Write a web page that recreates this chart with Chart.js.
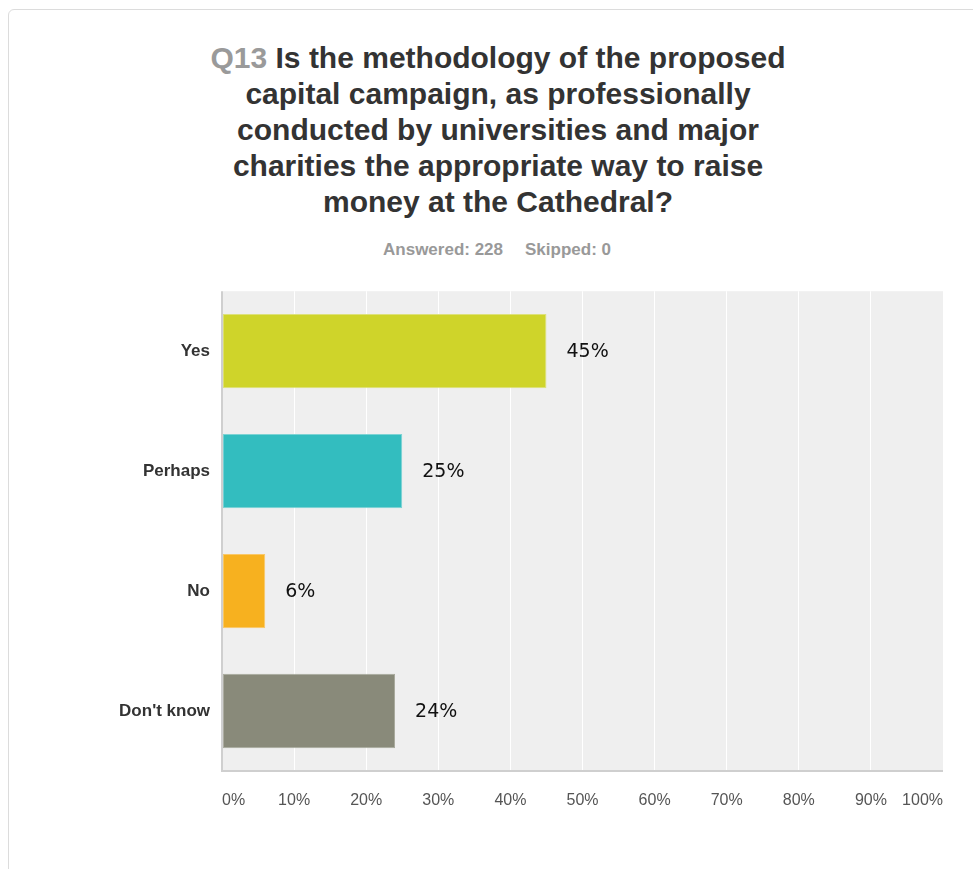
<!DOCTYPE html>
<html>
<head>
<meta charset="utf-8">
<script src="https://cdn.jsdelivr.net/npm/chart.js@4.4.1/dist/chart.umd.min.js"></script>
<style>
  html, body { margin: 0; padding: 0; background: #fff; }
  body { width: 973px; height: 869px; position: relative; overflow: hidden; }
  .card {
    position: absolute; left: 8px; top: 9px; width: 1100px; height: 1000px;
    border: 1px solid #dcdcdc; border-radius: 6px; box-sizing: border-box;
  }
  .title {
    position: absolute; left: 0; top: 40px; width: 996px;
    text-align: center; font-family: "Liberation Sans", Arial, sans-serif;
    font-weight: bold; font-size: 30px; line-height: 36px; color: #333;
  }
  .title .qnum { color: #9a9a9a; }
  .meta {
    position: absolute; left: 0; top: 240px; width: 994px; text-align: center;
    font-family: "Liberation Sans", Arial, sans-serif; font-weight: bold;
    font-size: 17px; line-height: 20px; color: #999;
  }
  .meta span + span { margin-left: 22px; }
  .chart-box { position: absolute; left: 0; top: 269px; width: 973px; height: 562px; }
</style>
</head>
<body>
<div class="card"></div>
<div class="title"><span class="qnum">Q13</span> Is the methodology of the proposed<br>capital campaign, as professionally<br>conducted by universities and major<br>charities the appropriate way to raise<br>money at the Cathedral?</div>
<div class="meta"><span>Answered: 228</span><span>Skipped: 0</span></div>
<div class="chart-box"><canvas id="chart"></canvas></div>
<script>
// Answer choices and share of respondents (%)
const categories = ["Yes", "Perhaps", "No", "Don't know"];
const percentages = [45, 25, 6, 24];
const barColors = ["#cfd42a", "#33bdbf", "#f7b11f", "#898a7a"];
const barEdges = ["#dde17a", "#7dd3d4", "#fac867", "#a8a99c"];
const tickValues = [0, 10, 20, 30, 40, 50, 60, 70, 80, 90, 100];

// Light grey panel behind the bars plus the left and bottom axis rules
const plotPanel = {
  id: "plotPanel",
  beforeDraw(chart) {
    const { ctx, chartArea: a } = chart;
    ctx.save();
    ctx.fillStyle = "#efefef";
    ctx.fillRect(a.left, a.top, a.right - a.left, a.bottom - a.top);
    ctx.restore();
  },
  afterDraw(chart) {
    const { ctx, chartArea: a } = chart;
    ctx.save();
    ctx.strokeStyle = "#cfcfcf";
    ctx.lineWidth = 2;
    ctx.beginPath();
    ctx.moveTo(a.left, a.top);
    ctx.lineTo(a.left, a.bottom);
    ctx.lineTo(a.right, a.bottom);
    ctx.stroke();
    ctx.restore();
  }
};

// Percentage label to the right of each bar
const valueLabels = {
  id: "valueLabels",
  afterDatasetsDraw(chart) {
    const { ctx } = chart;
    const meta = chart.getDatasetMeta(0);
    ctx.save();
    ctx.font = '19px "DejaVu Sans", Verdana, sans-serif';
    ctx.fillStyle = "#111";
    ctx.textAlign = "left";
    ctx.textBaseline = "middle";
    meta.data.forEach((bar, i) => {
      ctx.fillText(percentages[i] + "%", bar.x + 20, bar.y + 1);
    });
    ctx.restore();
  }
};

new Chart(document.getElementById("chart"), {
  type: "bar",
  data: {
    labels: categories,
    datasets: [{
      data: percentages,
      backgroundColor: barColors,
      borderColor: barEdges,
      borderWidth: 1,
      borderSkipped: false,
      categoryPercentage: 1,
      barPercentage: 0.62
    }]
  },
  options: {
    indexAxis: "y",
    responsive: true,
    maintainAspectRatio: false,
    animation: false,
    layout: { padding: { top: 10, right: 30, left: 0, bottom: 0 } },
    plugins: { legend: { display: false }, tooltip: { enabled: false } },
    scales: {
      x: {
        min: 0, max: 100,
        afterBuildTicks(scale) { scale.ticks = tickValues.map(v => ({ value: v })); },
        afterFit(scale) { scale.height = 60; },
        grid: { color: "#ffffff", lineWidth: 1, drawTicks: false },
        border: { display: false },
        ticks: {
          align: "inner",
          padding: 20,
          color: "#555",
          font: { family: '"Liberation Sans", Arial, sans-serif', size: 16 },
          callback: v => v + "%"
        }
      },
      y: {
        afterFit(scale) { scale.width = 222; },
        grid: { display: false, drawTicks: false },
        border: { display: false },
        ticks: {
          padding: 12,
          color: "#333",
          font: { family: '"Liberation Sans", Arial, sans-serif', size: 17, weight: "bold" }
        }
      }
    }
  },
  plugins: [plotPanel, valueLabels]
});
</script>
</body>
</html>
